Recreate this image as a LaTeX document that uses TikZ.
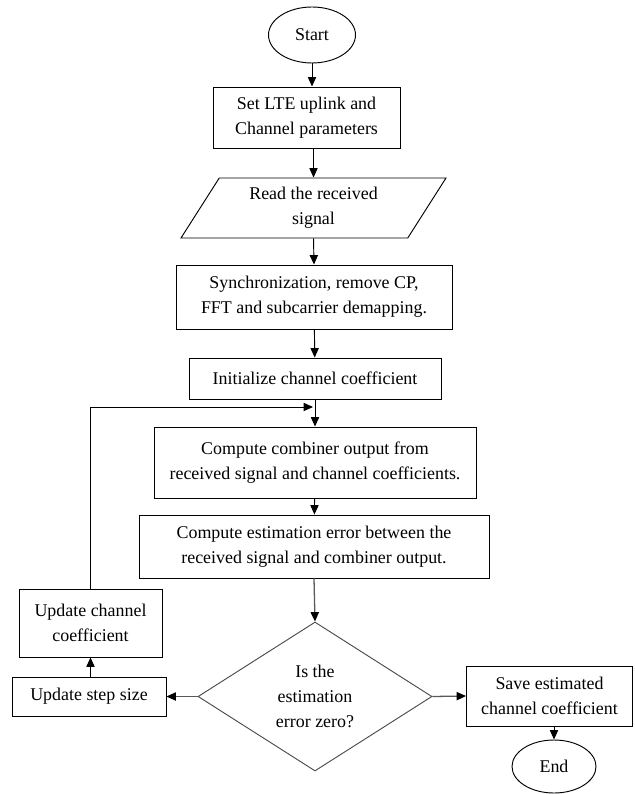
\documentclass[tikz,border=0pt]{standalone}
\usepackage{fontspec}
\setmainfont{Liberation Serif}
\usetikzlibrary{shapes.geometric,arrows.meta}
\tikzset{
  blk/.style={draw,line width=0.8pt,align=center,inner sep=2pt},
  term/.style={draw,ellipse,line width=0.8pt,inner sep=0pt},
  arr/.style={line width=0.8pt,-{Triangle[length=8pt,width=7pt,color=black]}},
  grayarr/.style={arr,draw=black!65,line width=1.1pt}
}
\begin{document}
\begin{tikzpicture}[x=0.03cm,y=-0.03cm,font=\fontsize{15.3}{21}\selectfont]
    \useasboundingbox (0,0) rectangle (634,794);
    %% main column
    \node[term,minimum width=2.61cm,minimum height=1.68cm] (start) at (312,35) {Start};
    \node[blk,minimum width=5.61cm,minimum height=1.83cm] (setp) at (306.5,117.5) {Set LTE uplink and\\Channel parameters};
    \node[blk,trapezium,trapezium left angle=50,trapezium right angle=130,trapezium stretches body=true,
          minimum width=7.95cm,minimum height=1.8cm] (read) at (313.5,208) {Read the received\\signal};
    \node[blk,minimum width=8.28cm,minimum height=1.92cm] (sync) at (314,297) {Synchronization, remove CP,\\FFT and subcarrier demapping.};
    \node[blk,minimum width=7.56cm,minimum height=1.23cm] (init) at (315,378.5) {Initialize channel coefficient};
    \node[blk,minimum width=9.66cm,minimum height=2.13cm] (comp) at (315,462.5) {Compute combiner output from\\received signal and channel coefficients.};
    \node[blk,minimum width=10.5cm,minimum height=1.89cm] (err) at (314,546.5) {Compute estimation error between the\\received signal and combiner output.};
    \node[blk,diamond,draw=black!70,inner sep=0pt,minimum width=7.02cm,minimum height=4.47cm] (zero) at (315,696.5) {Is the\\estimation\\error zero?};
    %% left branch
    \node[blk,minimum width=4.62cm,minimum height=1.17cm] (stepsz) at (89,696.5) {Update step size};
    \node[blk,minimum width=4.29cm,minimum height=2.04cm] (updch) at (90.5,623) {Update channel\\coefficient};
    %% right branch
    \node[blk,minimum width=4.98cm,minimum height=1.8cm] (save) at (549.5,696) {Save estimated\\channel coefficient};
    \node[term,minimum width=2.52cm,minimum height=1.59cm] (end) at (554,766.5) {End};
    \coordinate (back) at (313,407);

    \draw[arr] (start.south) -- (start.south |- setp.north);
    \draw[arr] (read.north |- setp.south) -- (read.north);
    \draw[arr] (read.south) -- (sync.north);
    \draw[arr] (sync) -- (init);
    \draw[arr] (init) -- (comp);
    \draw[arr] (comp) -- (err);
    \draw[grayarr] (err.south) -- (zero.north);
    \draw[grayarr] (zero.west) -- (stepsz.east);
    \draw[grayarr] (zero.east) -- (save.west);
    \draw[arr] (end.north |- save.south) -- (end.north);
    \draw[arr] (updch.south |- stepsz.north) -- (updch.south);
    %% loop back
    \draw[arr] (updch.north) |- (back);
\end{tikzpicture}
\end{document}
